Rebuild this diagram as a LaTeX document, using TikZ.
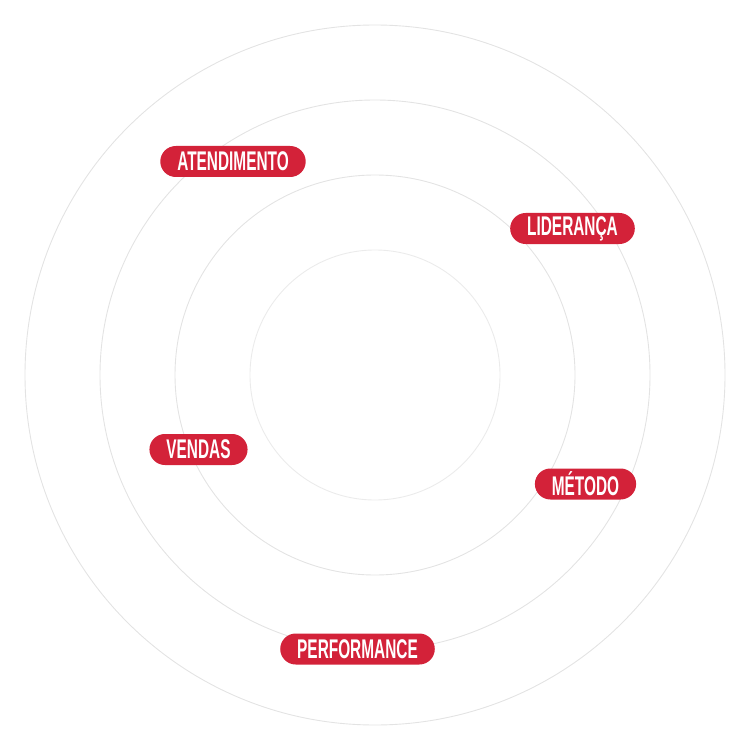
\documentclass[tikz,border=0pt]{standalone}
\usepackage{fontspec}
\setmainfont{Liberation Sans}[FakeStretch=0.57]
\newlength{\du}
\setlength{\du}{1pt}
\definecolor{pillred}{rgb}{0.827, 0.133, 0.224}
\definecolor{ringgray}{rgb}{0.890, 0.890, 0.890}
\tikzset{
  ring/.style={draw=ringgray, line width=0.9\du},
  pill/.style={fill=pillred, text=white, rounded corners=15.5\du, minimum height=31\du,
    inner xsep=17\du, inner ysep=0pt, font=\fontsize{27}{28}\selectfont\bfseries}
}
\begin{document}
\begin{tikzpicture}[x=1\du, y=-1\du]
\useasboundingbox (0,0) rectangle (751,751);
% rings
\draw[ring] (375,375) circle (350\du);
\draw[ring] (375,375) circle (275\du);
\draw[ring] (375,375) circle (200\du);
\draw[ring, draw=ringgray!70] (375,375) circle (125\du);
% labels
\node[pill] (atendimento) at (233,161.5) {ATENDIMENTO};
\node[pill] (lideranca) at (572.5,228.5) {LIDERANÇA};
\node[pill] (vendas) at (198.5,449.5) {VENDAS};
\node[pill] (metodo) at (585.5,484) {MÉTODO};
\node[pill] (performance) at (357.5,649) {PERFORMANCE};
\end{tikzpicture}
\end{document}
